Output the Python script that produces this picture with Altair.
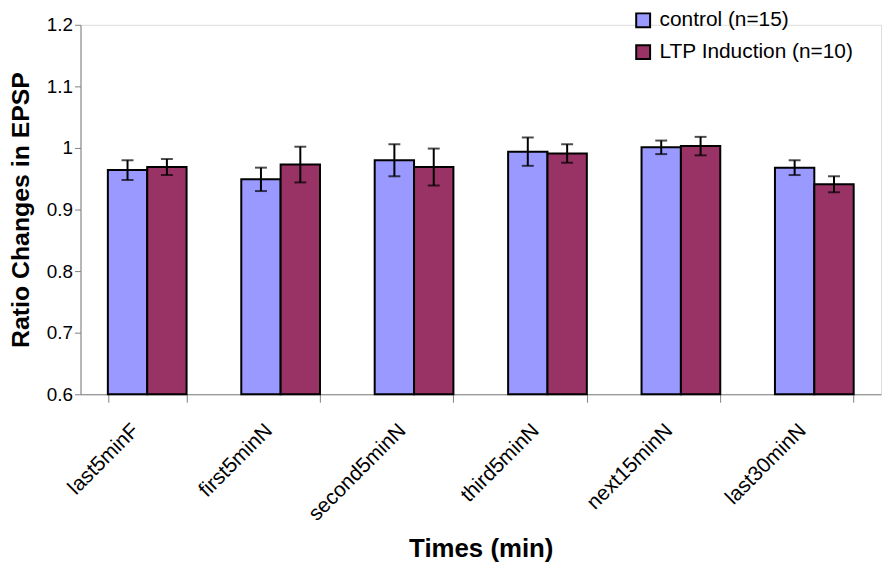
import altair as alt
import pandas as pd

categories = ["last5minF", "first5minN", "second5minN", "third5minN", "next15minN", "last30minN"]
series = ["control (n=15)", "LTP Induction (n=10)"]
control_mean = [0.964, 0.949, 0.980, 0.994, 1.001, 0.968]
control_err = [0.016, 0.019, 0.026, 0.023, 0.011, 0.012]
ltp_mean = [0.969, 0.973, 0.969, 0.991, 1.003, 0.941]
ltp_err = [0.013, 0.029, 0.030, 0.015, 0.015, 0.013]
colors = ["#9999FF", "#993366"]

rows = []
for i, c in enumerate(categories):
    rows.append({"cat": c, "series": series[0], "mean": control_mean[i],
                 "lo": control_mean[i] - control_err[i], "hi": control_mean[i] + control_err[i]})
    rows.append({"cat": c, "series": series[1], "mean": ltp_mean[i],
                 "lo": ltp_mean[i] - ltp_err[i], "hi": ltp_mean[i] + ltp_err[i]})
df = pd.DataFrame(rows)

FONT = "Liberation Sans"

x = alt.X("cat:N", sort=categories,
          scale=alt.Scale(paddingInner=0.41, paddingOuter=0.205),
          axis=alt.Axis(title="Times (min)", labelAngle=-45, labelAlign="right",
                        labelBaseline="middle", labelFontSize=21, labelFont=FONT,
                        labelColor="black", labelPadding=25, labelOffset=-12,
                        tickBand="extent", tickSize=8, tickColor="#808080",
                        domainColor="#808080", titleFontSize=26, titleFont=FONT,
                        titleFontWeight="bold", titleColor="black",
                        titleY=163, titleBaseline="alphabetic"))
xo = alt.XOffset("series:N", sort=series, scale=alt.Scale(paddingInner=0, paddingOuter=0))
y_scale = alt.Scale(domain=[0.6, 1.2], nice=False, zero=False)

bars = alt.Chart(df).mark_bar(stroke="black", strokeWidth=2).encode(
    x=x, xOffset=xo,
    y=alt.Y("mean:Q", scale=y_scale,
            axis=alt.Axis(title="Ratio Changes in EPSP", values=[0.6, 0.7, 0.8, 0.9, 1.0, 1.1, 1.2],
                          format=".1~f", labelFontSize=19, labelFont=FONT, labelColor="black",
                          tickSize=6, tickColor="#808080", domainColor="#808080", grid=False,
                          titleFontSize=25, titleFont=FONT, titleFontWeight="bold",
                          titleColor="black", titlePadding=13)),
    y2=alt.datum(0.6),
    color=alt.Color("series:N", sort=series, scale=alt.Scale(domain=series, range=colors),
                    legend=alt.Legend(title=None, orient="none", legendX=556, legendY=-15,
                                      symbolType="square", symbolSize=196,
                                      symbolStrokeColor="black", symbolStrokeWidth=2,
                                      labelFontSize=21, labelFont=FONT, labelColor="black",
                                      labelLimit=400,
                                      rowPadding=9, labelOffset=6, padding=0)),
)

rule = alt.Chart(df).mark_rule(color="black", strokeWidth=2).encode(
    x=x, xOffset=xo, y=alt.Y("lo:Q", scale=y_scale), y2="hi:Q")
cap_lo = alt.Chart(df).mark_tick(color="black", size=12, thickness=2).encode(
    x=x, xOffset=xo, y=alt.Y("lo:Q", scale=y_scale))
cap_hi = alt.Chart(df).mark_tick(color="black", size=12, thickness=2).encode(
    x=x, xOffset=xo, y=alt.Y("hi:Q", scale=y_scale))

chart = alt.layer(bars, rule, cap_lo, cap_hi).properties(
    width=806, height=372,
    autosize=alt.AutoSizeParams(type="none"),
    padding={"left": 73, "top": 15, "right": 4, "bottom": 170},
).configure_view(stroke=None).configure(background="white")

chart.save("out.html", embed_options={"renderer": "svg", "actions": False})
